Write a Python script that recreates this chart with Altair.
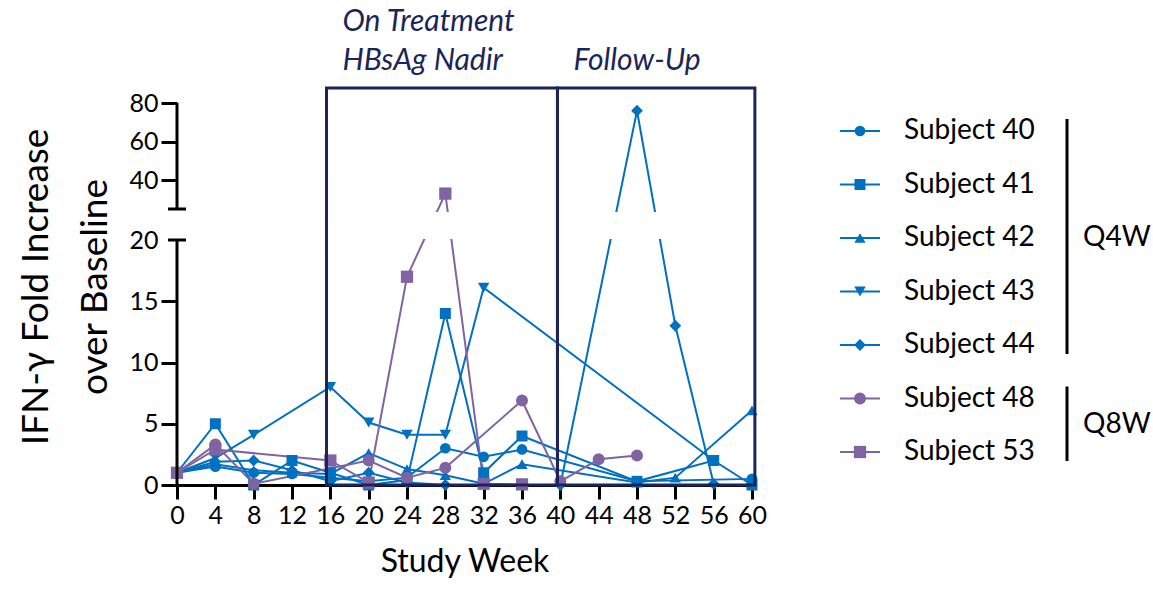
import altair as alt
import pandas as pd

# ---- series: IFN-gamma fold increase over baseline, by study week ----
SUBJECTS = ["Subject 40", "Subject 41", "Subject 42", "Subject 43",
            "Subject 44", "Subject 48", "Subject 53"]
REGIMEN = ["Q4W", "Q4W", "Q4W", "Q4W", "Q4W", "Q8W", "Q8W"]
COLORS = ["#0070C0", "#0070C0", "#0070C0", "#0070C0", "#0070C0", "#8064A2", "#8064A2"]
SHAPES = ["circle", "square", "triangle-up", "triangle-down", "diamond", "circle", "square"]
SIZES = [115, 150, 130, 130, 100, 115, 150]

WEEKS_40 = [0, 4, 8, 12, 16, 20, 24, 28, 32, 36, 48, 60]
FOLD_40 = [1.0, 1.5, 1.0, 0.9, 0.6, 0.3, 0.6, 3.0, 2.3, 2.9, 0.3, 0.5]

WEEKS_41 = [0, 4, 8, 12, 16, 20, 24, 28, 32, 36, 48, 56, 60]
FOLD_41 = [1.0, 5.0, 0.0, 2.0, 1.0, 0.0, 0.4, 14.0, 1.0, 4.0, 0.3, 2.0, 0.0]

WEEKS_42 = [0, 4, 8, 12, 16, 20, 24, 28, 32, 36, 48, 52, 60]
FOLD_42 = [1.0, 1.7, 1.2, 1.0, 0.9, 2.6, 1.3, 0.8, 0.1, 1.7, 0.2, 0.6, 6.1]

WEEKS_43 = [0, 4, 8, 16, 20, 24, 28, 32, 56]
FOLD_43 = [1.0, 2.2, 4.1, 8.0, 5.1, 4.1, 4.1, 16.1, 2.0]

WEEKS_44 = [0, 4, 8, 12, 16, 20, 24, 28, 40, 48, 52, 56]
FOLD_44 = [1.0, 1.9, 2.0, 1.2, 0.3, 1.0, 0.2, 0.0, 0.0, 76.0, 13.0, 0.1]

WEEKS_48 = [0, 4, 8, 20, 24, 28, 36, 40, 44, 48]
FOLD_48 = [1.0, 3.3, 0.1, 2.0, 0.6, 1.4, 6.9, 0.3, 2.1, 2.4]

WEEKS_53 = [0, 4, 16, 20, 24, 28, 32, 36]
FOLD_53 = [1.0, 2.9, 2.0, 0.2, 17.0, 33.0, 0.1, 0.05]

SERIES = [
    (WEEKS_40, FOLD_40), (WEEKS_41, FOLD_41), (WEEKS_42, FOLD_42),
    (WEEKS_43, FOLD_43), (WEEKS_44, FOLD_44), (WEEKS_48, FOLD_48),
    (WEEKS_53, FOLD_53),
]

# ---- axes ----
X_TICKS = list(range(0, 61, 4))
Y_TICKS = [0, 5, 10, 15, 20, 40, 60, 80]
Y_LOWER = [0, 20]          # lower segment of the broken axis
Y_UPPER = [25, 80]         # upper segment of the broken axis
Y_TOP = 87.8

# ---- study phases ----
PHASE_LINE1 = ["On Treatment", ""]
PHASE_LINE2 = ["HBsAg Nadir", "Follow-Up"]
PHASE_START = [15.6, 39.7]
PHASE_END = [39.7, 60.3]

FONT = "Lato"
NAVY = "#1C2559"
W, H = 575, 397

rows = []
for name, (weeks, vals) in zip(SUBJECTS, SERIES):
    for wk, v in zip(weeks, vals):
        rows.append({"subject": name, "week": wk, "fold": v})
data = pd.DataFrame(rows)

x_scale = alt.Scale(domain=[0, 60], nice=False, zero=False)
# piecewise scale: 0-20 on the lower panel, 25-80 compressed on the upper panel
y_scale = alt.Scale(domain=[0, Y_LOWER[1], Y_UPPER[0], Y_UPPER[1], Y_TOP],
                    range=[H, 152, 121, 15, 0], nice=False, zero=False)

x_axis = alt.Axis(values=X_TICKS, title="Study Week", grid=False,
                  domainColor="black", domainWidth=3, tickColor="black",
                  tickWidth=3, tickSize=14, labelFontSize=25, labelColor="black",
                  labelPadding=4, labelOverlap=False, labelFlush=False,
                  titleFontSize=32, titleFontWeight="normal",
                  titleColor="black", titlePadding=18, labelFont=FONT, titleFont=FONT)
y_axis = alt.Axis(values=Y_TICKS, title=["IFN-γ Fold Increase", "over Baseline"],
                  grid=False, domain=False, tickColor="black", tickWidth=3,
                  tickSize=16, labelOverlap=False, labelFlush=False,
                  tickOpacity={"condition": {"test": "datum.value === 20", "value": 0}, "value": 1},
                  labelFontSize=25, labelColor="black", labelPadding=3,
                  titleFontSize=37, titleFontWeight="normal", titleColor="black",
                  titleLineHeight=59, titlePadding=14, labelFont=FONT, titleFont=FONT)


def X(field):
    return alt.X(field, type="quantitative", scale=x_scale, axis=x_axis)


def Y(field):
    return alt.Y(field, type="quantitative", scale=y_scale, axis=y_axis)


color = alt.Color("subject:N", scale=alt.Scale(domain=SUBJECTS, range=COLORS), legend=None)
shape = alt.Shape("subject:N", scale=alt.Scale(domain=SUBJECTS, range=SHAPES), legend=None)
size = alt.Size("subject:N", scale=alt.Scale(domain=SUBJECTS, range=SIZES), legend=None)

base = alt.Chart(data)
lines = base.mark_line(strokeWidth=2).encode(x=X("week"), y=Y("fold"), color=color)
points = base.mark_point(filled=True, opacity=1, strokeWidth=0).encode(
    x=X("week"), y=Y("fold"), color=color, shape=shape, size=size)

# white band hiding the lines where the axis is broken
gap = pd.DataFrame({"week": [-0.3], "week_end": [60.4], "lo": [20.15], "hi": [24.5]})
mask = alt.Chart(gap).mark_rect(color="white").encode(
    x=X("week"), x2="week_end", y=Y("lo"), y2="hi")

segs = pd.DataFrame({"lo": [Y_LOWER[0], Y_UPPER[0]], "hi": [Y_LOWER[1], Y_UPPER[1]]})
axis_line = alt.Chart(segs).mark_rule(color="black", strokeWidth=3).encode(
    x=alt.value(0), y=Y("lo"), y2="hi")
caps = alt.Chart(pd.DataFrame({"lo": [Y_LOWER[1], Y_UPPER[0]]})).mark_rule(
    color="black", strokeWidth=3).encode(x=alt.value(-9), x2=alt.value(9), y=Y("lo"))

phases = pd.DataFrame({"line1": PHASE_LINE1, "line2": PHASE_LINE2, "week": PHASE_START,
                       "week_end": PHASE_END, "lo": [0, 0], "hi": [Y_TOP, Y_TOP]})
boxes = alt.Chart(phases).mark_rect(fillOpacity=0, stroke=NAVY, strokeWidth=3).encode(
    x=X("week"), x2="week_end", y=Y("lo"), y2="hi")
phase_style = dict(align="left", baseline="alphabetic", dx=16, fontSize=30,
                   fontStyle="italic", font=FONT, color=NAVY)
phase_text1 = alt.Chart(phases).mark_text(**phase_style).encode(
    x=X("week"), y=alt.value(31 - 88), text="line1:N")
phase_text2 = alt.Chart(phases).mark_text(**phase_style).encode(
    x=X("week"), y=alt.value(70 - 88), text="line2:N")

main = alt.layer(lines, points, mask, axis_line, caps, boxes, phase_text1, phase_text2)

# ---- legend panel with regimen brackets ----
leg = pd.DataFrame({"subject": SUBJECTS, "row": list(range(len(SUBJECTS)))})
leg_y = alt.Scale(domain=[0, len(SUBJECTS) - 1], range=[43, 364], nice=False, zero=False)
LY = alt.Y("row:Q", scale=leg_y, axis=None)
leg_lines = alt.Chart(leg).mark_rule(strokeWidth=2).encode(
    x=alt.value(663), x2=alt.value(703), y=LY, color=color)
leg_points = alt.Chart(leg).mark_point(filled=True, opacity=1, strokeWidth=0).encode(
    x=alt.value(683), y=LY, color=color, shape=shape, size=size)
leg_text = alt.Chart(leg).mark_text(align="left", baseline="middle", fontSize=28,
                                    font=FONT, color="black").encode(
    x=alt.value(727), y=LY, text="subject:N")

groups = pd.DataFrame({
    "group": ["Q4W", "Q8W"],
    "row": [REGIMEN.index("Q4W"), REGIMEN.index("Q8W")],
    "row_end": [len(REGIMEN) - 1 - REGIMEN[::-1].index("Q4W"),
                len(REGIMEN) - 1 - REGIMEN[::-1].index("Q8W")],
})
groups["mid"] = (groups["row"] + groups["row_end"]) / 2
brackets = alt.Chart(groups).mark_rule(strokeWidth=3, color="black", yOffset=-12,
                                       y2Offset=9).encode(
    x=alt.value(890), y=LY, y2="row_end")
group_text = alt.Chart(groups).mark_text(align="left", baseline="middle", fontSize=28,
                                         font=FONT, color="black").encode(
    x=alt.value(906), y=alt.Y("mid:Q", scale=leg_y, axis=None), text="group:N")

legend = alt.layer(leg_lines, leg_points, leg_text, brackets, group_text)

chart = alt.layer(main, legend).resolve_scale(x="independent", y="independent").properties(
    width=W, height=H,
    autosize=alt.AutoSizeParams(type="none"),
    padding={"left": 177, "top": 88, "right": 1153 - 177 - W, "bottom": 597 - 88 - H},
).configure(font=FONT).configure_view(stroke=None)

chart.save("out.html", embed_options={"renderer": "svg", "actions": False})
